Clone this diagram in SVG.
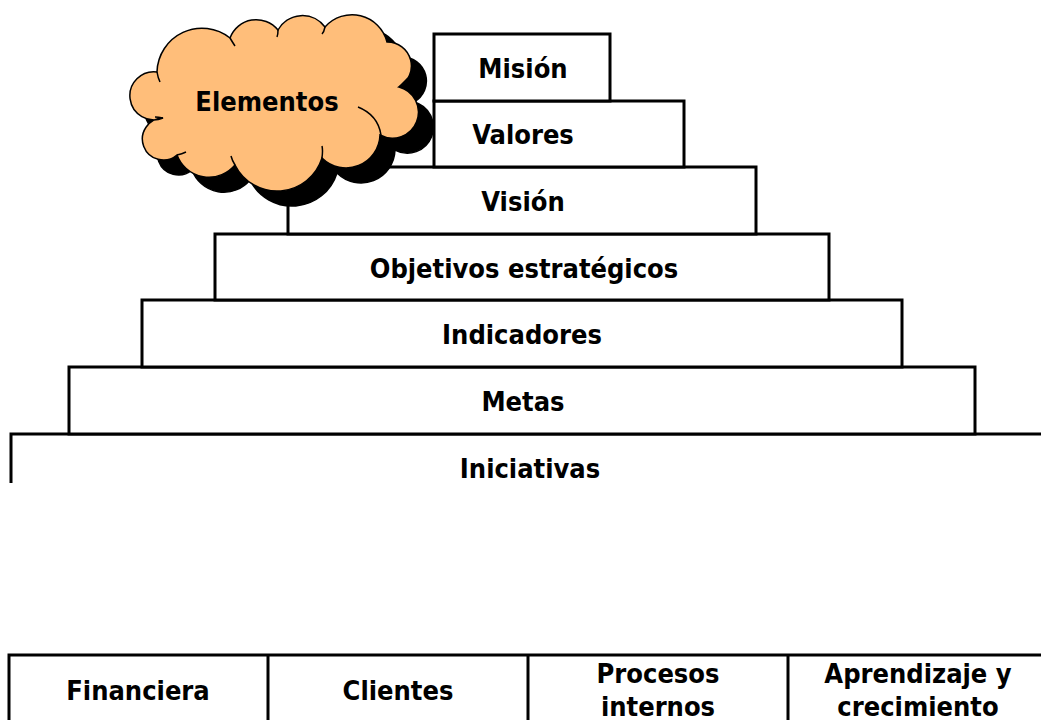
<svg xmlns="http://www.w3.org/2000/svg" width="1041" height="720" viewBox="0 0 1041 720">
<defs>
<style>
.box{fill:#fff;stroke:#000;stroke-width:3}
.ln{fill:none;stroke:#000;stroke-width:3}
.t{font-family:"DejaVu Sans Condensed","DejaVu Sans",sans-serif;font-stretch:condensed;font-weight:bold;font-size:27px;fill:#000;text-anchor:middle}
.cl{stroke:#000;stroke-width:1.5}
</style>
<path id="cloud" d="M163,118 A24,24 0 1 1 157,72 A45,45 0 0 1 230,38 A28,28 0 0 1 278,30 A28,28 0 0 1 325,27 A36,36 0 0 1 387,42 A24,24 0 0 1 399,87 A26,26 0 1 1 380,135 A34,34 0 0 1 322,158 A47,47 0 0 1 235,165 A34,34 0 0 1 177,155 A21,21 0 1 1 163,118 Z"/>
</defs>
<rect width="1041" height="720" fill="#fff"/>
<g id="iniciativas">
<path class="ln" d="M11,483 V434 H1041"/>
<text class="t" x="530" y="478">Iniciativas</text>
</g>
<g id="metas">
<rect class="box" x="69" y="367" width="906" height="67"/>
<text class="t" x="523" y="411">Metas</text>
</g>
<g id="indicadores">
<rect class="box" x="142" y="300" width="760" height="67"/>
<text class="t" x="522" y="344">Indicadores</text>
</g>
<g id="objetivos">
<rect class="box" x="215" y="234" width="614" height="66"/>
<text class="t" x="524" y="278">Objetivos estratégicos</text>
</g>
<g id="vision">
<rect class="box" x="288" y="167" width="468" height="67"/>
<text class="t" x="523" y="211">Visión</text>
</g>
<g id="valores">
<rect class="box" x="434" y="101" width="250" height="66"/>
<text class="t" x="523" y="144">Valores</text>
</g>
<g id="mision">
<rect class="box" x="434" y="34" width="176" height="67"/>
<text class="t" x="523" y="78">Misión</text>
</g>
<g id="elementos">
<use href="#cloud" transform="translate(15,15)" fill="#000" stroke="#000" stroke-width="1.5"/>
<use href="#cloud" fill="#FFBE7A" class="cl"/>
<path fill="none" stroke="#000" stroke-width="1.5" d="M358,107 Q378,115 381,135 M399,87 Q404,82 408,78 M322,158 Q323,150 322,146 M235,165 Q232,160 231,156 M177,155 Q182,154 186,152 M163,118 Q158,117 155,117 M157,72 Q158,78 160,82 M230,38 Q233,43 235,46 M278,30 Q278,35 277,37 M325,27 Q324,32 322,34"/>
<text class="t" x="267" y="111">Elementos</text>
</g>
<g id="perspectivas">
<path class="ln" d="M9,720 V655 H1041 M268,655 V720 M528,655 V720 M788,655 V720"/>
<text class="t" x="138" y="700">Financiera</text>
<text class="t" x="398" y="700">Clientes</text>
<text class="t" x="658" y="683">Procesos</text>
<text class="t" x="658" y="716">internos</text>
<text class="t" x="918" y="683">Aprendizaje y</text>
<text class="t" x="918" y="716">crecimiento</text>
</g>
</svg>
